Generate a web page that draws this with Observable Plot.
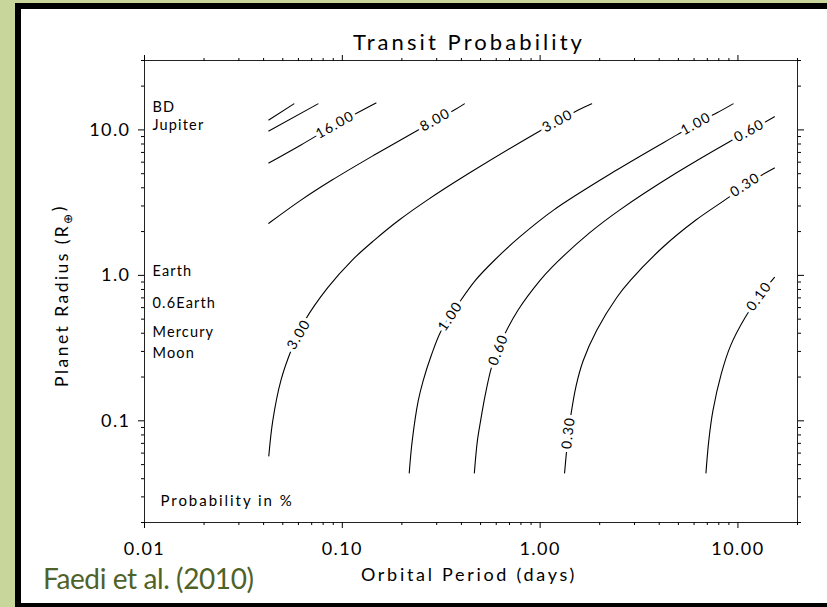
<!DOCTYPE html>
<html>
<head>
<meta charset="utf-8">
<script src="https://cdn.jsdelivr.net/npm/d3@7"></script>
<script src="https://cdn.jsdelivr.net/npm/@observablehq/plot@0.6"></script>
<style>
  html, body { margin: 0; padding: 0; }
  body { width: 827px; height: 607px; overflow: hidden; position: relative; background: #c8d59b; }
  #panel { position: absolute; left: 15px; top: 3px; width: 840px; height: 594px; border: 6px solid #000; background: #fff; }
  #chart { position: absolute; left: 0; top: 0; }
  #chart svg text { letter-spacing: 0.08em; }
  #cite { position: absolute; left: 43px; top: 564px; font: 28px/1 Lato, sans-serif; letter-spacing: -0.4px; color: #4f6228; white-space: nowrap; }
</style>
</head>
<body>
<div id="panel"></div>
<div id="chart"></div>
<div id="cite">Faedi et al. (2010)</div>
<script>
// Axis ranges and labelled ticks
const xDomain = [0.01, 20];   // orbital period, days
const yDomain = [0.02, 30];   // planet radius, Earth radii
const xMajor = [0.01, 0.1, 1, 10];
const xMajorLabels = ["0.01", "0.10", "1.00", "10.00"];
const yMajor = [0.1, 1, 10];
const yMajorLabels = ["0.1", "1.0", "10.0"];

// Reference bodies marked along the left edge (radius in Earth radii)
const bodyNames = ["BD", "Jupiter", "Earth", "0.6Earth", "Mercury", "Moon"];
const bodyRadii = [14.2, 10.8, 1.07, 0.64, 0.405, 0.29];

// Iso-probability contours: [period (days), radius (R_earth)] from small to large radius
const contour30 = [[0.0425, 11.7], [0.0569, 15.1]];
const contour25 = [[0.0425, 9.84], [0.0753, 15.1]];
const contour16 = [[0.0425, 5.92], [0.0618, 7.88], [0.0918, 10.8], [0.148, 15.3]];
const contour8  = [[0.0425, 2.28], [0.0618, 3.29], [0.0887, 4.52], [0.145, 6.72], [0.2419, 10.0],
                   [0.2949, 11.7], [0.3682, 13.7], [0.4138, 15.1]];
const contour3  = [[0.0425, 0.0574], [0.0445, 0.100], [0.0489, 0.189], [0.0556, 0.314], [0.0647, 0.489],
                   [0.0846, 0.827], [0.1120, 1.27], [0.1448, 1.74], [0.1938, 2.40], [0.2687, 3.29],
                   [0.4387, 5.05], [1.017, 10.0], [1.225, 11.5], [1.494, 13.3], [1.822, 15.1]];
const contour1  = [[0.2179, 0.0438], [0.2256, 0.0728], [0.2419, 0.137], [0.2564, 0.189], [0.2815, 0.281],
                   [0.3164, 0.418], [0.3904, 0.651], [0.4706, 0.924], [0.5874, 1.27], [0.786, 1.83],
                   [1.169, 2.81], [2.439, 5.30], [4.912, 9.24], [6.133, 11.0], [7.834, 13.1], [9.445, 15.1]];
const contour06 = [[0.465, 0.0438], [0.4816, 0.0728], [0.5000, 0.100], [0.527, 0.149], [0.5672, 0.232],
                   [0.610, 0.304], [0.650, 0.374], [0.771, 0.574], [0.999, 0.924], [1.149, 1.14],
                   [1.77, 1.95], [2.52, 2.81], [4.87, 5.05], [9.01, 8.27], [11.39, 9.84], [15.3, 12.3]];
const contour03 = [[1.329, 0.0438], [1.365, 0.0651], [1.39, 0.0826], [1.42, 0.103], [1.52, 0.174],
                   [1.65, 0.259], [1.93, 0.418], [2.44, 0.705], [2.86, 0.924], [4.17, 1.56],
                   [6.13, 2.40], [9.015, 3.45], [10.86, 4.18], [15.3, 5.47]];
const contour01 = [[6.89, 0.0438], [7.12, 0.0728], [7.47, 0.117], [8.24, 0.211], [9.18, 0.329],
                   [10.87, 0.513], [12.79, 0.716], [15.3, 0.969]];

// Contour labels (probability in %) and where they sit on their line
const labelText   = ["16.00", "8.00", "3.00", "3.00", "1.00", "1.00", "0.60", "0.60", "0.30", "0.30", "0.10"];
const labelPeriod = [0.0918, 0.2949, 1.225, 0.0603, 6.133, 0.3514, 11.39, 0.615, 10.86, 1.39, 12.79];
const labelRadius = [10.8, 11.7, 11.5, 0.392, 11.0, 0.522, 9.84, 0.307, 4.18, 0.0826, 0.716];

const contours = [
  {id: "30", label: null, pts: contour30},
  {id: "25", label: null, pts: contour25},
  {id: "16", label: "16.00", pts: contour16},
  {id: "8", label: "8.00", pts: contour8},
  {id: "3", label: "3.00", pts: contour3},
  {id: "1", label: "1.00", pts: contour1},
  {id: "0.6", label: "0.60", pts: contour06},
  {id: "0.3", label: "0.30", pts: contour03},
  {id: "0.1", label: "0.10", pts: contour01}
];

const W = 827, H = 607;
const M = {top: 60, right: 30, bottom: 85, left: 144};

function minorTicks([lo, hi]) {
  const out = [];
  for (let e = Math.floor(Math.log10(lo)); e <= Math.ceil(Math.log10(hi)); e++) {
    for (let m = 2; m <= 9; m++) {
      const v = m * 10 ** e;
      if (v >= lo * 0.999 && v <= hi * 1.001) out.push(v);
    }
  }
  return out;
}
const xMinor = minorTicks(xDomain);
const yMinor = minorTicks(yDomain);
const xLabel = new Map(xMajor.map((d, i) => [d, xMajorLabels[i]]));
const yLabel = new Map(yMajor.map((d, i) => [d, yMajorLabels[i]]));

const rows = contours.flatMap(c => c.pts.map(([P, R]) => ({id: c.id, P, R})));

// Orient each label along its contour using the same scales the plot uses
const sx = Plot.scale({x: {type: "log", domain: xDomain, range: [M.left, W - M.right]}});
const sy = Plot.scale({y: {type: "log", domain: yDomain, range: [H - M.bottom, M.top]}});
const labels = labelText.map((text, i) => {
  const c = contours.find(c => c.label === text);
  const pts = c.pts.map(([p, r]) => [sx.apply(p), sy.apply(r)]);
  const px = sx.apply(labelPeriod[i]), py = sy.apply(labelRadius[i]);
  let k = 0, best = Infinity;
  pts.forEach(([x, y], j) => { const d = Math.hypot(x - px, y - py); if (d < best) { best = d; k = j; } });
  const a = pts[Math.max(k - 1, 0)], b = pts[Math.min(k + 1, pts.length - 1)];
  return {text, P: labelPeriod[i], R: labelRadius[i], angle: Math.atan2(b[1] - a[1], b[0] - a[0]) * 180 / Math.PI};
});

const blank = () => "";
const chart = Plot.plot({
  width: W,
  height: H,
  marginTop: M.top,
  marginRight: M.right,
  marginBottom: M.bottom,
  marginLeft: M.left,
  x: {type: "log", domain: xDomain, label: null},
  y: {type: "log", domain: yDomain, label: null},
  style: {fontFamily: "Lato, sans-serif", fontSize: "15px", color: "#000", background: "transparent", overflow: "visible"},
  marks: [
    Plot.line(rows, {x: "P", y: "R", z: "id", curve: "catmull-rom", stroke: "#000", strokeWidth: 1.1}),
    Plot.text(labels, {x: "P", y: "R", text: "text", rotate: "angle", fontSize: 14, fill: "#000",
                       stroke: "#fff", strokeWidth: 7, paintOrder: "stroke", lineAnchor: "middle"}),
    Plot.text(bodyNames, {y: bodyRadii, text: d => d, frameAnchor: "left", dx: 8, textAnchor: "start", fontSize: 14.5}),
    Plot.text(["Probability in %"], {text: d => d, frameAnchor: "bottom-left", dx: 16, dy: -17, textAnchor: "start", fontSize: 15}),
    Plot.text(["Transit Probability"], {text: d => d, frameAnchor: "top", dx: -2, dy: -26, fontSize: 22}),
    Plot.text(["Orbital Period (days)"], {text: d => d, frameAnchor: "bottom", dx: -2, dy: 58, fontSize: 18}),
    Plot.text(["Planet Radius (R⊕)"], {text: d => d, frameAnchor: "left", dx: -82, dy: 4, rotate: -90, textAnchor: "middle", fontSize: 17.5}),
    Plot.frame({stroke: "#222", strokeWidth: 1}),
    Plot.axisX(xMajor, {anchor: "bottom", tickSize: 6, tickPadding: 14, tickFormat: d => xLabel.get(d), fontSize: 18, label: null}),
    Plot.axisX(xMinor, {anchor: "bottom", tickSize: 3, tickFormat: blank, label: null}),
    Plot.axisX(xMajor, {anchor: "top", tickSize: 6, tickFormat: blank, label: null}),
    Plot.axisX(xMinor, {anchor: "top", tickSize: 3, tickFormat: blank, label: null}),
    Plot.axisY(yMajor, {anchor: "left", tickSize: 6, tickPadding: 8, tickFormat: d => yLabel.get(d), fontSize: 18, label: null}),
    Plot.axisY(yMinor, {anchor: "left", tickSize: 3, tickFormat: blank, label: null}),
    Plot.axisY(yMajor, {anchor: "right", tickSize: 6, tickFormat: blank, label: null}),
    Plot.axisY(yMinor, {anchor: "right", tickSize: 3, tickFormat: blank, label: null})
  ]
});

// Wider tracking on the titles; ⊕ of the y-axis title set as a subscript
const tracking = {
  "Transit Probability": "0.14em",
  "Orbital Period (days)": "0.15em",
  "Planet Radius (R⊕)": "0.14em",
  "Probability in %": "0.13em"
};
d3.select(chart).selectAll("text").each(function () {
  const s = this.textContent;
  if (tracking[s]) this.style.letterSpacing = tracking[s];
  if (s === "Planet Radius (R⊕)") {
    const t = d3.select(this);
    t.text("Planet Radius (R");
    t.append("tspan").attr("dy", "0.3em").attr("font-size", "12px").text("⊕");
    t.append("tspan").attr("dy", "-0.4em").text(")");
  }
});

document.getElementById("chart").appendChild(chart);
</script>
</body>
</html>
